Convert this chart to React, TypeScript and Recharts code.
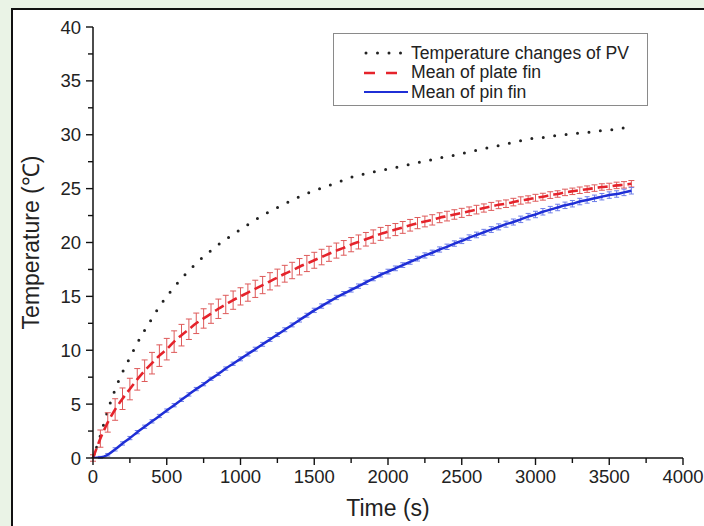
import { LineChart, Line, XAxis, YAxis, ErrorBar } from "recharts";

// time in seconds (every 50 s)
const timeS = [
  0, 50, 100, 150, 200, 250, 300, 350, 400, 450, 500, 550, 600, 650, 700, 750, 800, 850, 900, 950,
  1000, 1050, 1100, 1150, 1200, 1250, 1300, 1350, 1400, 1450, 1500, 1550, 1600, 1650, 1700, 1750,
  1800, 1850, 1900, 1950, 2000, 2050, 2100, 2150, 2200, 2250, 2300, 2350, 2400, 2450, 2500, 2550,
  2600, 2650, 2700, 2750, 2800, 2850, 2900, 2950, 3000, 3050, 3100, 3150, 3200, 3250, 3300, 3350,
  3400, 3450, 3500, 3550, 3600, 3650,
];

// temperature changes of PV (dotted black)
const pvTemp = [
  0, 2.1, 4.4, 6.35, 7.95, 9.3, 10.65, 11.85, 12.95, 14.05, 15.0, 15.85, 16.65, 17.4, 18.05, 18.7,
  19.25, 19.8, 20.3, 20.75, 21.2, 21.65, 22.1, 22.5, 22.9, 23.25, 23.6, 23.9, 24.25, 24.55, 24.8,
  25.05, 25.3, 25.55, 25.8, 26.05, 26.25, 26.4, 26.55, 26.7, 26.8, 26.95, 27.1, 27.25, 27.4, 27.55,
  27.7, 27.85, 28.0, 28.1, 28.25, 28.4, 28.55, 28.7, 28.85, 29.0, 29.15, 29.3, 29.45, 29.6, 29.7,
  29.75, 29.85, 29.95, 30.0, 30.1, 30.15, 30.2, 30.3, 30.4, 30.45, 30.5, 30.65, 30.8,
];

// mean of plate fin (red dashed) and its error
const plateMean = [
  0, 1.8, 3.3, 4.5, 5.5, 6.4, 7.3, 8.1, 8.8, 9.5, 10.1, 10.8, 11.4, 11.95, 12.5, 12.95, 13.4, 13.85,
  14.25, 14.65, 15.0, 15.35, 15.7, 16.05, 16.4, 16.75, 17.1, 17.4, 17.75, 18.05, 18.35, 18.65, 18.95,
  19.25, 19.5, 19.8, 20.05, 20.3, 20.55, 20.8, 21.0, 21.2, 21.4, 21.6, 21.8, 21.95, 22.1, 22.3, 22.45,
  22.6, 22.75, 22.9, 23.05, 23.2, 23.35, 23.5, 23.6, 23.75, 23.9, 24.0, 24.15, 24.25, 24.4, 24.5,
  24.65, 24.75, 24.85, 24.95, 25.05, 25.15, 25.2, 25.3, 25.35, 25.45,
];
const plateErr = [
  0.3, 0.8, 0.9, 1.0, 1.0, 1.0, 1.0, 1.0, 1.0, 1.0, 1.0, 1.0, 1.0, 0.95, 0.95, 0.9, 0.9, 0.9, 0.85,
  0.85, 0.8, 0.8, 0.8, 0.8, 0.8, 0.78, 0.78, 0.76, 0.76, 0.75, 0.74, 0.72, 0.7, 0.7, 0.68, 0.66,
  0.65, 0.63, 0.62, 0.6, 0.58, 0.56, 0.55, 0.54, 0.52, 0.5, 0.48, 0.46, 0.45, 0.44, 0.42, 0.4, 0.4,
  0.38, 0.37, 0.36, 0.35, 0.35, 0.34, 0.33, 0.32, 0.32, 0.31, 0.3, 0.3, 0.3, 0.3, 0.3, 0.3, 0.3, 0.3,
  0.3, 0.3, 0.3,
];

// mean of pin fin (blue solid) and its error
const pinMean = [
  0, 0.05, 0.3, 0.8, 1.35, 1.85, 2.4, 2.9, 3.4, 3.9, 4.4, 4.9, 5.4, 5.9, 6.4, 6.85, 7.35, 7.8, 8.3,
  8.75, 9.2, 9.65, 10.1, 10.55, 11.0, 11.45, 11.9, 12.35, 12.8, 13.25, 13.7, 14.1, 14.5, 14.9, 15.25,
  15.6, 15.95, 16.3, 16.65, 17.0, 17.3, 17.6, 17.9, 18.2, 18.5, 18.8, 19.05, 19.35, 19.6, 19.9, 20.15,
  20.45, 20.7, 20.95, 21.2, 21.45, 21.7, 21.9, 22.15, 22.4, 22.6, 22.85, 23.05, 23.25, 23.45, 23.6,
  23.8, 23.95, 24.1, 24.25, 24.4, 24.5, 24.65, 24.8,
];
const pinErr = [
  0, 0.1, 0.12, 0.15, 0.15, 0.15, 0.15, 0.15, 0.15, 0.15, 0.15, 0.15, 0.15, 0.15, 0.15, 0.15, 0.15,
  0.15, 0.15, 0.15, 0.18, 0.18, 0.18, 0.18, 0.18, 0.18, 0.18, 0.18, 0.18, 0.18, 0.2, 0.2, 0.2, 0.2,
  0.2, 0.2, 0.2, 0.2, 0.2, 0.2, 0.22, 0.22, 0.22, 0.22, 0.22, 0.24, 0.24, 0.24, 0.25, 0.25, 0.25,
  0.26, 0.26, 0.27, 0.27, 0.28, 0.28, 0.28, 0.3, 0.3, 0.3, 0.3, 0.3, 0.3, 0.3, 0.3, 0.3, 0.3, 0.3, 0.3,
  0.3, 0.3, 0.3, 0.3,
];

const xTicks = [0, 250, 500, 750, 1000, 1250, 1500, 1750, 2000, 2250, 2500, 2750, 3000, 3250, 3500, 3750, 4000];
const yTicks = [0, 2.5, 5, 7.5, 10, 12.5, 15, 17.5, 20, 22.5, 25, 27.5, 30, 32.5, 35, 37.5, 40];

const data = timeS.map((t, i) => ({
  time: t,
  pv: pvTemp[i],
  plate: plateMean[i],
  plateErr: plateErr[i],
  pin: pinMean[i],
  pinErr: pinErr[i],
}));

const FONT = "'Liberation Sans', Arial, sans-serif";
const RED = "#e5232b";
const BLUE = "#1f2fd6";

function XTick(props: any) {
  const { x, y, payload } = props;
  const major = payload.value % 500 === 0;
  return (
    <g>
      <line x1={x} y1={y} x2={x} y2={y + (major ? 7 : 5)} stroke="#111" strokeWidth={1.4} />
      {major && (
        <text x={x} y={y + 25} textAnchor="middle" fontSize={18.5} fontFamily={FONT} fill="#222">
          {payload.value}
        </text>
      )}
    </g>
  );
}

function YTick(props: any) {
  const { x, y, payload } = props;
  const major = payload.value % 5 === 0;
  return (
    <g>
      <line x1={x} y1={y} x2={x - (major ? 7 : 5)} y2={y} stroke="#111" strokeWidth={1.4} />
      {major && (
        <text x={x - 12} y={y + 6.5} textAnchor="end" fontSize={18.5} fontFamily={FONT} fill="#222">
          {payload.value}
        </text>
      )}
    </g>
  );
}

function LegendBox() {
  const rows = [
    { label: "Temperature changes of PV", kind: "pv" },
    { label: "Mean of plate fin", kind: "plate" },
    { label: "Mean of pin fin", kind: "pin" },
  ];
  return (
    <div
      style={{
        position: "absolute",
        left: 333,
        top: 33,
        width: 313,
        height: 71,
        border: "1.5px solid #8a8a8a",
        background: "#fff",
        fontFamily: FONT,
        fontSize: 17.6,
        color: "#222",
      }}
    >
      {rows.map((r, i) => (
        <div key={r.kind} style={{ position: "absolute", left: 28, top: 9 + i * 19.5, height: 20, display: "flex", alignItems: "center" }}>
          <svg width={46} height={12} style={{ marginRight: 3 }}>
            {r.kind === "pv" && (
              <line x1={4} y1={6} x2={44} y2={6} stroke="#222" strokeWidth={3} strokeDasharray="0 11.5" strokeLinecap="round" />
            )}
            {r.kind === "plate" && (
              <line x1={2} y1={6} x2={36} y2={6} stroke={RED} strokeWidth={2.5} strokeDasharray="11 11" />
            )}
            {r.kind === "pin" && <line x1={2} y1={6} x2={46} y2={6} stroke={BLUE} strokeWidth={2} />}
          </svg>
          <span style={{ whiteSpace: "nowrap" }}>{r.label}</span>
        </div>
      ))}
    </div>
  );
}

export default function App() {
  return (
    <div style={{ position: "absolute", left: 0, top: 0, width: 704, height: 526, background: "#eaf3e6", overflow: "hidden" }}>
      <div
        style={{
          position: "absolute",
          left: 11,
          top: 8,
          right: 0,
          bottom: 0,
          background: "#fff",
          borderTop: "2px solid #111",
          borderLeft: "2px solid #111",
        }}
      />
      <div style={{ position: "absolute", left: 0, top: 0 }}>
        <LineChart width={704} height={526} data={data} margin={{ top: 27, right: 21, bottom: 10, left: 20 }}>
          <XAxis
            dataKey="time"
            type="number"
            domain={[0, 4000]}
            ticks={xTicks}
            interval={0}
            tickSize={0}
            tickMargin={0}
            tickLine={false}
            height={58}
            axisLine={{ stroke: "#111", strokeWidth: 1.5 }}
            tick={(p: any) => <XTick {...p} />}
            label={{ value: "Time (s)", position: "insideBottom", offset: 0, fontSize: 23, fontFamily: FONT, fill: "#222" }}
          />
          <YAxis
            type="number"
            domain={[0, 40]}
            ticks={yTicks}
            interval={0}
            allowDataOverflow
            tickSize={0}
            tickMargin={0}
            tickLine={false}
            width={73}
            axisLine={{ stroke: "#111", strokeWidth: 1.5 }}
            tick={(p: any) => <YTick {...p} />}
            label={{
              value: "Temperature (\u2103)",
              angle: -90,
              position: "insideLeft",
              offset: 11,
              fontSize: 23,
              fontFamily: FONT,
              fill: "#222",
              style: { textAnchor: "middle" },
            }}
          />
          <Line
            dataKey="pv"
            type="monotone"
            stroke="#222"
            strokeWidth={3}
            strokeDasharray="0 11.5"
            strokeLinecap="round"
            dot={false}
            isAnimationActive={false}
          />
          <Line dataKey="plate" type="monotone" stroke={RED} strokeWidth={2.6} strokeDasharray="10 5" dot={false} isAnimationActive={false}>
            <ErrorBar dataKey="plateErr" width={3} stroke="#de5a5a" strokeWidth={1} direction="y" isAnimationActive={false} />
          </Line>
          <Line dataKey="pin" type="monotone" stroke={BLUE} strokeWidth={2.5} dot={false} isAnimationActive={false}>
            <ErrorBar dataKey="pinErr" width={2.5} stroke="#6f7fe8" strokeWidth={1} direction="y" isAnimationActive={false} />
          </Line>
        </LineChart>
      </div>
      <LegendBox />
    </div>
  );
}
